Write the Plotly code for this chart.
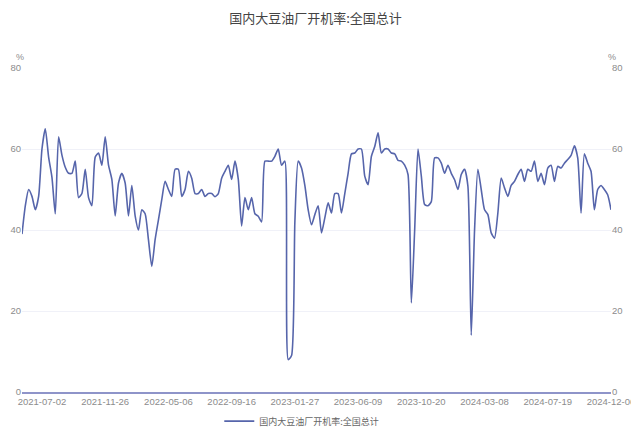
import pandas as pd
import plotly.graph_objects as go

# Weekly reporting dates (Fridays); weeks without a release are skipped
first_week = "2021-05-21"
last_week = "2024-12-06"
skipped_weeks = [
    "2021-10-01", "2021-10-08",
    "2021-12-31", "2022-01-28", "2022-02-04", "2022-04-08",
    "2024-02-16",
    "2024-10-04",
]
weeks = [d.strftime("%Y-%m-%d") for d in pd.date_range(first_week, last_week, freq="7D")]
dates = [d for d in weeks if d not in skipped_weeks]

# Operating rate, national total (%)
rate = [
    39, 46, 50, 48.3, 45, 48.3, 60, 65, 58, 53,
    44, 63, 58.5, 55.5, 54, 54, 57, 48, 49, 55,
    48, 46, 58, 59, 56, 63, 56, 52.5, 43.5, 51.6,
    54, 51.6, 43.5, 51, 43.5, 40, 45, 44, 37.6, 31,
    37.6, 42.5, 47.5, 52, 50, 48.3, 55, 55, 48.3, 50,
    54.5, 52.8, 49, 49, 50, 48.3, 49, 49, 48.2, 49,
    52.8, 54.5, 56, 52.5, 57, 52.5, 41, 48, 45, 48,
    44, 43.4, 42, 57, 57, 57, 58.2, 60, 56, 57,
    8, 9, 42, 57, 55.3, 51, 45, 41.3, 43.8, 46,
    39.3, 43, 46.7, 44.2, 49, 49, 44.2, 49, 54, 58.8,
    59, 60, 60, 53.3, 51.2, 58.2, 60.6, 64, 59, 60,
    60, 59, 58.8, 57.2, 57, 56, 53.7, 22, 40, 60,
    53.3, 46.3, 46, 47, 57.8, 57.8, 56.5, 54, 56, 54,
    52.4, 50, 53.7, 55, 50.8, 14, 40, 55, 50, 45,
    43.8, 39.3, 38, 44.2, 52.8, 50.4, 48.3, 51, 52, 53.7,
    55, 52, 55, 54.5, 57, 52, 54, 51.2, 55.3, 56,
    52, 55.7, 55.3, 56.5, 57.4, 58.4, 60.8, 57.8, 44.2, 58.8,
    56.5, 54.5, 45, 50, 51, 50, 48.7, 45,
]

series_name = "国内大豆油厂开机率:全国总计"
y_ticks = [0, 20, 40, 60, 80]

# Label every 19th week, counting back from the latest one
tick_idx = list(range(len(dates) - 1, -1, -19))[::-1]
x_ticks = [dates[i] for i in tick_idx]

line_color = "#5665AB"
label_color = "#8C8C8C"
grid_color = "#F0F1F8"
num_font = "Liberation Sans, Noto Sans CJK SC, sans-serif"
cjk_font = "Noto Sans CJK SC, sans-serif"

fig = go.Figure()
fig.add_trace(go.Scatter(
    x=dates, y=rate, name=series_name, mode="lines",
    line=dict(color=line_color, width=1.6, shape="spline", smoothing=0.6),
))
# Same series on the right-hand axis so its labels are drawn
fig.add_trace(go.Scatter(
    x=dates, y=rate, yaxis="y2", mode="lines", showlegend=False,
    hoverinfo="skip", line=dict(color="rgba(0,0,0,0)", width=0),
))

yaxis_common = dict(
    range=[0, 80], tickvals=y_ticks, showgrid=True, gridcolor=grid_color,
    gridwidth=1, zeroline=False, showline=False, ticks="",
    tickfont=dict(family=num_font, size=9.5, color=label_color),
    fixedrange=True, automargin=False,
)

fig.update_layout(
    width=631, height=428,
    margin=dict(l=22, r=20, t=68, b=36, autoexpand=False),
    paper_bgcolor="white", plot_bgcolor="white",
    title=dict(text=series_name, x=0.5, xanchor="center", y=0.958, yanchor="middle",
               font=dict(family=cjk_font, size=13, color="#444444")),
    xaxis=dict(
        type="category", categoryorder="array", categoryarray=dates,
        range=[0, len(dates) - 1], tickvals=x_ticks, ticktext=x_ticks,
        tickangle=0, showgrid=False, zeroline=False, automargin=False,
        showline=True, linecolor="#8E94C9", linewidth=1.6, ticks="",
        tickfont=dict(family=num_font, size=9.5, color=label_color),
    ),
    yaxis=dict(side="left", **yaxis_common),
    yaxis2=dict(side="right", overlaying="y", **yaxis_common),
    legend=dict(orientation="h", x=0.475, xanchor="center", y=-0.09, yanchor="middle",
                font=dict(family=cjk_font, size=9, color="#666666"),
                itemwidth=30),
    showlegend=True,
    annotations=[
        dict(text="%", xref="paper", yref="paper", x=-0.003, y=1.034,
             xanchor="center", yanchor="middle", showarrow=False,
             font=dict(family=num_font, size=9, color=label_color)),
        dict(text="%", xref="paper", yref="paper", x=1.002, y=1.034,
             xanchor="center", yanchor="middle", showarrow=False,
             font=dict(family=num_font, size=9, color=label_color)),
    ],
)

fig.write_html("out.html")
